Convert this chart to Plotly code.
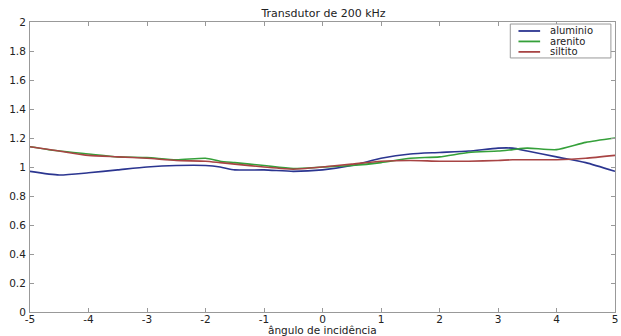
import plotly.graph_objects as go

x = [-5, -4.5, -4, -3.5, -3, -2.5, -2, -1.75, -1.5, -1, -0.5, 0, 0.5, 1, 1.5, 2, 2.5, 3, 3.25, 3.5, 4, 4.5, 5]
aluminio = [0.97, 0.945, 0.96, 0.98, 1.00, 1.01, 1.01, 1.00, 0.98, 0.98, 0.97, 0.98, 1.01, 1.06, 1.09, 1.10, 1.11, 1.13, 1.13, 1.11, 1.07, 1.03, 0.97]
arenito = [1.14, 1.11, 1.09, 1.07, 1.065, 1.05, 1.06, 1.04, 1.03, 1.01, 0.99, 1.00, 1.01, 1.03, 1.06, 1.07, 1.10, 1.11, 1.12, 1.13, 1.12, 1.17, 1.20]
siltito = [1.14, 1.11, 1.08, 1.07, 1.06, 1.045, 1.04, 1.03, 1.02, 1.00, 0.985, 1.00, 1.02, 1.04, 1.045, 1.04, 1.04, 1.045, 1.05, 1.05, 1.05, 1.06, 1.08]
names = ["aluminio", "arenito", "siltito"]
colors = ["#2b3590", "#35a03a", "#a84444"]
x_ticks = [-5, -4, -3, -2, -1, 0, 1, 2, 3, 4, 5]
y_ticks = [0, 0.2, 0.4, 0.6, 0.8, 1, 1.2, 1.4, 1.6, 1.8, 2]

FONT = "DejaVu Sans"
TXT = "#222222"
fig = go.Figure()
for n, ys, c in zip(names, [aluminio, arenito, siltito], colors):
    fig.add_trace(go.Scatter(x=x, y=ys, name=n, mode="lines", showlegend=False,
                             line=dict(color=c, width=1.6, shape="spline", smoothing=0.6)))

# compact MATLAB-style legend box
fig.add_shape(type="rect", xref="paper", yref="paper", x0=0.821, x1=0.993, y0=0.876, y1=0.993,
              line=dict(color="#999999", width=1), fillcolor="white", layer="above")
entry_y = [0.969, 0.933, 0.897]
for n, c, ey in zip(names, colors, entry_y):
    fig.add_shape(type="line", xref="paper", yref="paper", x0=0.835, x1=0.872, y0=ey, y1=ey,
                  line=dict(color=c, width=1.8), layer="above")
    fig.add_annotation(xref="paper", yref="paper", x=0.886, y=ey, text=n, showarrow=False,
                       xanchor="left", yanchor="middle", font=dict(family=FONT, size=10, color=TXT))

fig.add_annotation(xref="paper", yref="paper", x=0.5, y=-0.062, text="ângulo de incidência",
                   showarrow=False, xanchor="center", yanchor="middle",
                   font=dict(family=FONT, size=10.5, color=TXT))

axis_common = dict(showgrid=False, zeroline=False, showline=True, linecolor="#999999",
                   linewidth=1, mirror="ticks", ticks="inside", ticklen=4, tickcolor="#999999",
                   tickfont=dict(family=FONT, size=10.5, color=TXT))
fig.update_layout(
    width=621, height=336,
    margin=dict(l=30, r=3, t=22, b=24),
    paper_bgcolor="white", plot_bgcolor="white",
    title=dict(text="Transdutor de 200 kHz", x=0.521, xanchor="center", y=0.962, yanchor="middle",
               font=dict(family=FONT, size=11, color=TXT)),
    xaxis=dict(range=[-5, 5], tickvals=x_ticks, ticktext=[str(t) for t in x_ticks],
               ticklabeloverflow="allow", ticklabelstandoff=-3, **axis_common),
    yaxis=dict(range=[0, 2], tickvals=y_ticks, ticktext=[("%g" % t) for t in y_ticks],
               ticklabelstandoff=1, **axis_common),
    showlegend=False,
)
fig.write_html("out.html")
